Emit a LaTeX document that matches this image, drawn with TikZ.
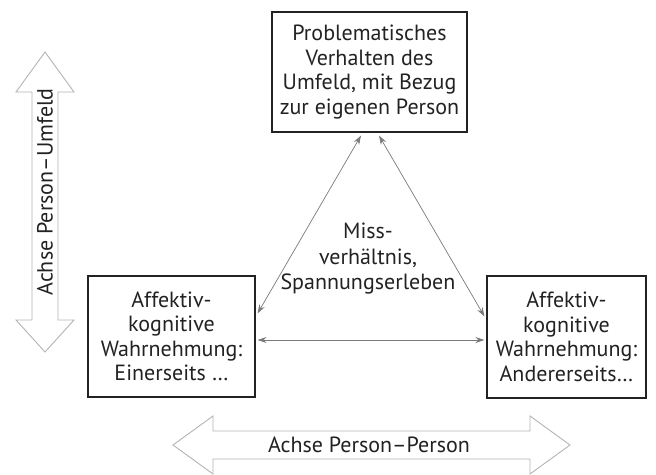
\documentclass[tikz,border=0pt]{standalone}
\usepackage{fontspec}
\setmainfont{PT Sans}
\usetikzlibrary{arrows.meta,calc}
\definecolor{txt}{HTML}{222222}
\definecolor{conn}{HTML}{7A7A7A}
\definecolor{bigarr}{HTML}{B4B4B4}
\tikzset{
  box/.style={draw=txt, line width=1.1pt, text=txt, align=center, inner sep=0pt,
    font=\fontsize{22}{24.5}\selectfont},
  lbl/.style={text=txt, align=center, inner sep=0pt, font=\fontsize{22}{25.5}\selectfont},
  conn/.style={draw=conn, line width=0.7pt, {Stealth[length=9pt,width=6pt]}-{Stealth[length=9pt,width=6pt]}},
  bigarrow/.style={draw=bigarr, line width=0.9pt, fill=white, line join=miter}
}
\begin{document}
\begin{tikzpicture}[x=1pt,y=-1pt]
\useasboundingbox (0,0) rectangle (656,474);
% big arrows
\draw[bigarrow] (45,52) -- (74,92) -- (58,92) -- (58,320) -- (74,320) -- (45,352)
  -- (16,320) -- (32,320) -- (32,92) -- (16,92) -- cycle;
\draw[bigarrow] (173,445) -- (213,416) -- (213,431) -- (530,431) -- (530,416) -- (570,445)
  -- (530,474) -- (530,459) -- (213,459) -- (213,474) -- cycle;
\node[lbl, rotate=90] (achseU) at (45,192) {Achse Person–Umfeld};
\node[lbl] (achseP) at (369,445) {Achse Person–Person};
% boxes
\node[box, minimum width=195pt, minimum height=120pt] (top) at (369.5,72)
  {Problematisches\\Verhalten des\\Umfeld, mit Bezug\\zur eigenen Person};
\node[box, minimum width=167pt, minimum height=121pt] (left) at (171.5,336.5)
  {Affektiv-\\kognitive\\Wahrnehmung:\\Einerseits \dots};
\node[box, minimum width=159pt, minimum height=122pt] (right) at (566.5,337)
  {Affektiv-\\kognitive\\Wahrnehmung:\\Andererseits\dots};
\node[lbl] (mid) at (368,259) {Miss-\\verhältnis,\\Spannungserleben};
% connectors
\coordinate (tl) at ($(top.south)+(-8.5,3)$);
\coordinate (tr) at ($(top.south)+(9.5,3)$);
\coordinate (lt) at ($(left.north east)+(2,38)$);
\coordinate (rt) at ($(right.north west)+(-2,41)$);
\coordinate (lh) at ($(left.east)+(2,3.5)$);
\coordinate (rh) at ($(right.west)+(-2,3)$);
\draw[conn] (tl) -- (lt);
\draw[conn] (tr) -- (rt);
\draw[conn] (lh) -- (rh);
\end{tikzpicture}
\end{document}
